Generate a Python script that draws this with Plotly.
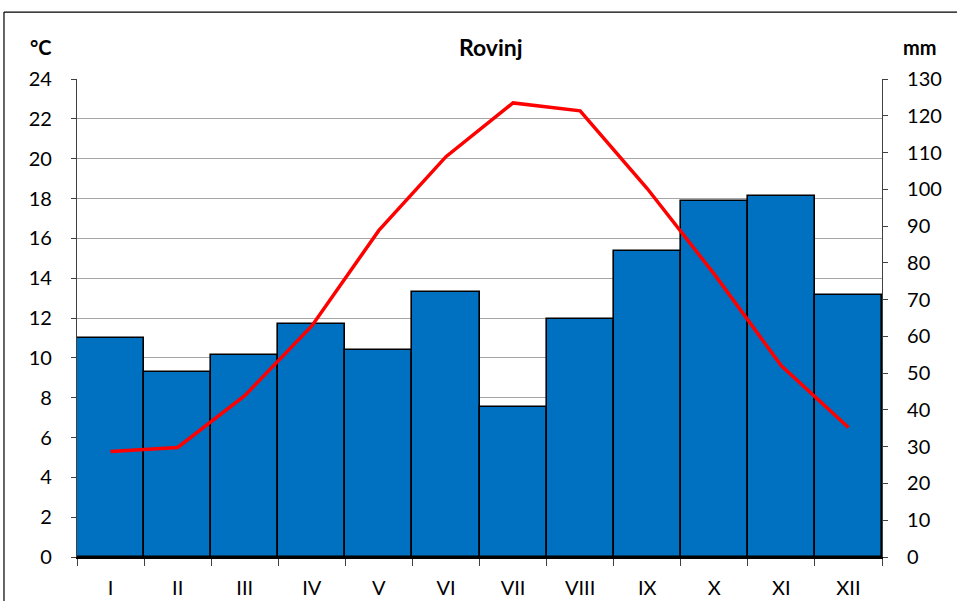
import plotly.graph_objects as go

months = ["I", "II", "III", "IV", "V", "VI", "VII", "VIII", "IX", "X", "XI", "XII"]
precip_mm = [59.5, 50.3, 54.9, 63.4, 56.3, 72.1, 40.7, 64.6, 83.1, 96.8, 98.1, 71.2]
temp_c = [5.3, 5.5, 8.1, 11.6, 16.4, 20.1, 22.8, 22.4, 18.5, 14.2, 9.6, 6.5]

temp_ticks = list(range(0, 25, 2))
mm_ticks = list(range(0, 131, 10))
MM_MAX, C_MAX = 130, 24
# temperature gridlines expressed on the mm axis (so they sit beneath the bars)
grid_on_mm = [t * MM_MAX / C_MAX for t in temp_ticks]

FONT = "Lato"
fig = go.Figure()

fig.add_trace(go.Bar(
    x=months, y=precip_mm, yaxis="y",
    marker=dict(color="#0070C0", line=dict(color="black", width=1.6)),
    name="Padaline (mm)",
))
fig.add_trace(go.Scatter(
    x=months, y=temp_c, yaxis="y2", mode="lines",
    line=dict(color="#FF0000", width=3.5),
    name="Temperatura (°C)",
))

fig.update_layout(
    width=957, height=601,
    margin=dict(l=77, r=75, t=79, b=44),
    paper_bgcolor="white", plot_bgcolor="white",
    showlegend=False, bargap=0,
    font=dict(family=FONT, size=20, color="black"),
    xaxis=dict(
        type="category", tickson="boundaries", ticks="outside", ticklen=7,
        tickcolor="#404040", showline=True, linecolor="black", linewidth=1.5,
        showgrid=False, ticklabelstandoff=12, automargin=False,
    ),
    yaxis=dict(
        range=[0, MM_MAX], tickvals=mm_ticks, ticks="outside", ticklen=5,
        tickcolor="#404040", showline=True, linecolor="#404040", linewidth=1.2,
        showgrid=False, zeroline=False, side="right", ticklabelstandoff=15,
        automargin=False,
        minor=dict(tickvals=grid_on_mm, showgrid=True, gridcolor="#A6A6A6",
                   gridwidth=1.2, ticks=""),
    ),
    yaxis2=dict(
        range=[0, C_MAX], tickvals=temp_ticks, ticks="outside", ticklen=5,
        tickcolor="#404040", showline=True, linecolor="#404040", linewidth=1.2,
        showgrid=False, zeroline=False, side="left", overlaying="y",
        ticklabelstandoff=15, automargin=False,
    ),
)

fig.add_annotation(text="<b>Rovinj</b>", xref="paper", yref="paper", x=0.514, y=1.067,
                   showarrow=False, font=dict(size=23, family=FONT), xanchor="center", yanchor="middle")
fig.add_annotation(text="<b>°C</b>", xref="paper", yref="paper", x=-0.045, y=1.067,
                   showarrow=False, font=dict(size=20, family=FONT), xanchor="center", yanchor="middle")
fig.add_annotation(text="<b>mm</b>", xref="paper", yref="paper", x=1.047, y=1.067,
                   showarrow=False, font=dict(size=20, family=FONT), xanchor="center", yanchor="middle")

# outer chart frame (top and left edges visible)
fig.add_shape(type="line", xref="paper", yref="paper", x0=-0.0907, x1=1.2, y0=1.140, y1=1.140,
              line=dict(color="black", width=1.2))
fig.add_shape(type="line", xref="paper", yref="paper", x0=-0.0907, x1=-0.0907, y0=1.140, y1=-0.2,
              line=dict(color="black", width=1.2))

fig.write_html("out.html", config={"displayModeBar": False},
               post_script="document.body.style.margin='0';")
